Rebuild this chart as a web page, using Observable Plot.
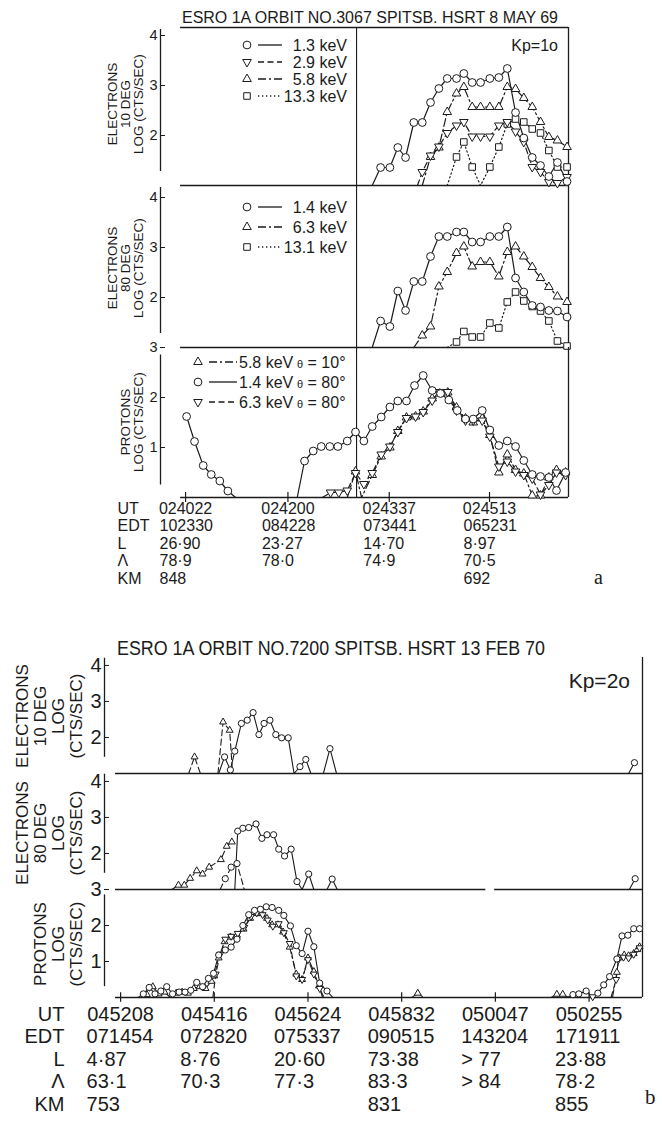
<!DOCTYPE html>
<html>
<head>
<meta charset="utf-8">
<script src="https://cdn.jsdelivr.net/npm/d3@7"></script>
<script src="https://cdn.jsdelivr.net/npm/@observablehq/plot@0.6"></script>
<style>
  html,body{margin:0;padding:0;background:#fff;}
  #root{position:relative;width:662px;height:1126px;overflow:hidden;background:#fff;}
  #root svg{position:absolute;left:0;}
</style>
</head>
<body>
<div id="root"></div>
<script>
// ================= DATA : figure a (UT seconds after 02:40:00) =================
const titleA = "ESRO 1A ORBIT NO.3067 SPITSB. HSRT 8 MAY 69";
const kpA = "Kp=1o";
const tickA = [22, 120, 217, 313];
const utA  = ["024022","024200","024337","024513"];
const edtA = ["102330","084228","073441","065231"];
const lA   = ["26·90","23·27","14·70","8·97"];
const latA = ["78·9","78·0","74·9","70·5"];
const kmA  = ["848","","","692"];
const rowNames = ["UT","EDT","L","Λ","KM"];

// panel a1 : electrons 10 deg, log cts/sec
const a1_c13 = [[[200.7,1],[208.7,1.36],[217.6,1.36],[225.2,1.76],[232.6,1.56],[240.5,2.26],[248.6,2.26],[256.5,2.66],[264.5,2.94],[272.5,3.14],[281.4,3.14],[288.4,3.24],[296.4,3.06],[304.4,3.06],[313.3,3.14],[321.9,3.16],[330,3.34],[337.9,2.46],[345.8,1.95],[353.9,1.56],[361.8,1.4],[369.8,1.18],[378,1.46],[387.2,1.08]]];
const a1_d29 = [[[244,1],[248.6,1.27],[256.5,1.6],[264.5,1.78],[272.5,2.05],[281.4,2.2],[288.4,2.27],[296.4,1.98],[304.4,1.98],[313.3,1.98],[321.9,2.2],[330,2.27],[337.9,2.08],[345.8,1.87],[353.9,1.37],[361.8,1.27],[369.8,1.07],[378,1.05],[387.2,1.17]]];
const a1_u58 = [[[248.6,1],[256.5,1.57],[264.5,1.76],[272.5,2.47],[281.4,2.84],[288.4,2.97],[296.4,2.57],[304.4,2.57],[313.3,2.57],[321.9,2.57],[330,2.97],[337.9,2.93],[345.8,2.75],[353.9,2.57],[361.8,2.27],[369.8,1.97],[378,1.9],[387.2,1.77]]];
const a1_s133 = [[[272.5,1],[281.4,1.57],[288.4,1.87],[296.4,1.37],[304.4,1],[313.3,1.37],[321.9,1.77],[330,2.23],[337.9,2.33],[345.8,2.27],[353.9,2.13],[361.8,2.05],[369.8,1.7],[378,1.37],[387.2,1.37]]];
const legA1 = ["1.3 keV","2.9 keV","5.8 keV","13.3 keV"];

// panel a2 : electrons 80 deg
const a2_c14 = [[[200.7,1],[208.7,1.53],[217.6,1.42],[225.2,2.13],[232.6,1.74],[240.5,2.32],[248.6,2.32],[256.5,2.82],[264.5,3.22],[272.5,3.22],[281.4,3.31],[288.4,3.31],[296.4,3.11],[304.4,3.11],[313.3,3.22],[321.9,3.22],[330,3.41],[337.9,2.39],[345.8,2.11],[353.9,1.84],[361.8,1.81],[369.8,1.74],[378,1.73],[387.2,1.61]]];
const a2_u63 = [[[240.5,1],[248.6,1.24],[256.5,1.42],[264.5,2.22],[272.5,2.51],[281.4,2.89],[288.4,3.02],[296.4,2.62],[304.4,2.71],[313.3,2.71],[321.9,2.42],[330,2.91],[337.9,3.02],[345.8,2.82],[353.9,2.61],[361.8,2.39],[369.8,2.21],[378,2.02],[387.2,1.91]]];
const a2_s131 = [[[272.5,1],[281.4,1.11],[288.4,1.32],[296.4,1.21],[304.4,1.21],[313.3,1.49],[321.9,1.39],[330,1.91],[337.9,2.11],[345.8,1.93],[353.9,1.82],[361.8,1.73],[369.8,1.53],[378,1.13],[387.2,1.03]]];
const legA2 = ["1.4 keV","6.3 keV","13.1 keV"];

// panel a3 : protons
const a3_c14 = [[[23,1.62],[30.6,1.12],[38.9,0.64],[46.6,0.46],[54.8,0.33],[62.5,0.13],[69.9,0],[128.9,0],[135.9,0.73],[144.2,0.93],[151.9,1.02],[160.1,1.02],[167.8,1.02],[176.8,1.13],[184.7,1.31],[192.7,1.13],[200.7,1.42],[209.3,1.61],[217.6,1.81],[225.2,1.93],[233.5,1.93],[241.2,2.24],[249.5,2.44],[258.1,2.14],[266.1,2.08],[274,1.95],[282.1,1.74],[290,1.57],[297.4,1.57],[306,1.74],[313.3,1.35],[321.9,1.04],[330,1.13],[337.9,1.02],[345.8,0.74],[353.9,0.46],[361.8,0.42],[369.8,0.4],[377.1,0.14],[385.8,0.5]]];
const a3_u58 = [[[176.8,0],[184.7,0.52],[190.5,0],[200.7,0.45],[209.3,0.82],[217.6,1.0],[225.2,1.33],[233.5,1.6],[242.2,1.62],[249.5,1.72],[258.1,1.98],[265.4,2.08],[273,2.1],[281.4,1.8],[290,1.58],[297.4,1.5],[306,1.58],[313.3,1.25],[321.9,0.5],[330,0.86],[337.9,0.55],[345.8,0.48],[353.9,0.04],[361.8,0.04],[369.8,0.4],[377.1,0.55],[385.8,0.5]]];
const a3_d63 = [[[152.9,0],[160.8,0.1],[168.7,0.1],[176.8,0.14],[184.7,0.49],[192.7,0.27],[200.7,0.49],[209.3,0.86],[217.6,1.02],[225.2,1.31],[233.5,1.59],[242.2,1.62],[249.5,1.71],[258.1,1.94],[265.4,2.11],[273,2.11],[281.4,1.74],[290,1.54],[297.4,1.54],[306,1.54],[313.3,1.22],[321.9,0.62],[330,0.72],[337.9,0.52],[345.8,0.45],[353.9,0.38],[361.8,0.06],[369.8,0.25],[377.1,0.5],[385.8,0.45]]];
const legA3 = ["5.8 keV","1.4 keV","6.3 keV"];
const legA3theta = ["10°","80°","80°"];

// ================= DATA : figure b (seconds after 04:52:08) =================
const titleB = "ESRO 1A ORBIT NO.7200 SPITSB. HSRT 13 FEB 70";
const kpB = "Kp=2o";
const tickB = [0,128,256,384,512,640];
const utB  = ["045208","045416","045624","045832","050047","050255"];
const edtB = ["071454","072820","075337","090515","143204","171911"];
const lB   = ["4·87","8·76","20·60","73·38","> 77","23·88"];
const latB = ["63·1","70·3","77·3","83·3","> 84","78·2"];
const kmB  = ["753","","","831","","855"];

const b1_c = [[[134,1],[142,1.46],[150,1.1],[156,1.62],[165,2.39],[173,2.48],[181,2.69],[189,2.08],[196,2.39],[204,2.48],[212,2.08],[220,1.99],[229,1.99],[237,1],[245,1.19],[253,1.39],[260,1]],[[277,1],[286,1.69],[295,1]],[[694,1],[702,1.3]]];
const b1_u = [[[93,1],[101,1.46],[109,1]],[[133,1],[140,2.43],[149,2.2],[153,1]]];

const b2_c = [[[156,1],[160,2.62],[167,2.7],[175,2.72],[185,2.82],[193,2.42],[200,2.52],[209,2.52],[216,2.12],[224,1.93],[233,2.12],[241,1.22],[248,1],[257,1.43],[264,1]],[[282,1],[289,1.29],[296,1]],[[695,1],[703,1.3]]];
const b2_cd = [[[136,1],[143,1.3],[151,1.62],[159,1.72],[169,1]]];
const b2_u = [[[70,1],[79,1.12],[87,1.12],[95,1.31],[104,1.52],[112,1.43],[121,1.62],[137,1.83],[145,2.2],[152,2.32]]];

const b3_c = [[[24,0],[31,0.1],[39,0.28],[47,0.1],[55,0.18],[63,0.3],[71,0.1],[80,0.15],[88,0.15],[96,0.2],[104,0.42],[112,0.3],[120,0.53],[127,0.67],[134,1.18],[143,1.32],[151,1.4],[159,1.62],[167,2.0],[175,2.3],[183,2.42],[191,2.45],[199,2.52],[207,2.5],[216,2.42],[223,2.28],[232,1.99],[240,1.44],[248,1.22],[256,1.84],[264,1.41],[272,0.4],[282,0.18],[290,0]],[[610,0],[618,0.08],[626,0.1],[636,0.18],[645,0],[652,0.12],[660,0.35],[668,0.58],[678,1.07],[685,1.71],[693,1.73],[701,1.91],[709,1.91]]];
const b3_u = [[[28,0],[36,0.08],[44,0.3],[52,0.1],[60,0.15],[68,0],[76,0.12],[84,0.15],[92,0.12],[100,0.25],[108,0.3],[116,0.25],[124,0.45],[128,0.6],[134,1.1],[142,1.55],[150,1.68],[159,1.73],[168,1.9],[177,2.2],[186,2.33],[193,2.33],[200,2.2],[207,2.02],[215,2.02],[222,1.82],[231,1.4],[240,0.65],[248,0.5],[256,1.1],[264,0.72],[271,0.32],[276,0]],[[398,0],[406,0.12],[414,0]],[[588,0],[596,0.09],[604,0.09],[612,0]],[[672,0],[678,0.7],[681,1.1],[688,1.18],[694,1.16],[701,1.22],[706,1.33],[709,1.41]]];
const b3_d = [[[126,0],[130,0.65],[136,1.2],[143,1.62],[151,1.7],[160,1.78],[169,1.95],[178,2.25],[186,2.35],[194,2.3],[201,2.15],[208,1.98],[216,2.05],[223,1.8],[231,1.5],[240,0.6],[248,0.5],[256,1.05],[264,0.65],[272,0.25],[278,0]],[[638,0],[645,0.02],[651,0]],[[670,0],[677,0.5],[680,1.05],[687,1.12],[694,1.1],[701,1.2],[709,1.38]]];

// ================= STYLE =================
const FONT = '"Liberation Sans",Arial,sans-serif';
const SERIF = '"Liberation Serif","DejaVu Serif",serif';
const INK = "#1b1b1b";
const DASH = "6,3.5", DASHDOT = "8,3,2,3", DOT = "1.3,2.7";
const S3 = Math.sqrt(3);
const triDown = {draw(ctx, size){ const y = -Math.sqrt(size/(S3*3)); ctx.moveTo(0,-2*y); ctx.lineTo(-S3*y, y); ctx.lineTo(S3*y, y); ctx.closePath(); }};
const SYM = {circle: "circle", up: "triangle", down: triDown, square: "square"};
const RAD = {circle: 3.9, up: 3.2, down: 3.2, square: 3.7};
const D3SYM = {circle: d3.symbolCircle, up: d3.symbolTriangle, down: triDown, square: d3.symbolSquare};

function rows(segs){ const out=[]; segs.forEach((seg,k)=>seg.forEach(([t,v])=>out.push({t,v,seg:k}))); return out; }

const root = document.getElementById("root");

function panel(o){
  const {xd, yd} = o;
  const marks = [];
  marks.push(Plot.ruleY(o.baseSpans, {y: yd[0], x1: d=>d[0], x2: d=>d[1], stroke: INK, strokeWidth: o.fw}));
  if (o.topBorder) marks.push(Plot.ruleY([o.baseSpans[0][0]], {y: yd[1], x1: d=>d, x2: xd[1], stroke: INK, strokeWidth: o.fw}));
  marks.push(Plot.ruleX([xd[1]], {stroke: INK, strokeWidth: o.fw}));
  if (o.divider != null) marks.push(Plot.ruleX([o.divider], {stroke: INK, strokeWidth: 1.1}));
  marks.push(Plot.ruleX([xd[0]], {y1: o.axisSpan[0], y2: o.axisSpan[1], stroke: INK, strokeWidth: o.fw}));
  marks.push(Plot.axisY(o.ticks, {anchor: "left", tickSize: -5, tickPadding: 8, label: null, fontSize: o.tickFont, fontFamily: FONT, color: INK, tickFormat: d=>String(d)}));
  for (const s of o.series){
    const data = rows(s.segs);
    marks.push(Plot.line(data, {x: "t", y: "v", z: "seg", stroke: INK, strokeWidth: o.lw, strokeDasharray: s.dash || null}));
  }
  for (const s of o.series){
    const data = rows(s.segs).filter(d => d.v > yd[0] + 1e-9);
    marks.push(Plot.dot(data, {x: "t", y: "v", symbol: SYM[s.sym], r: RAD[s.sym]*o.ms, fill: "white", stroke: INK, strokeWidth: 1}));
  }
  if (o.bottom){
    const b = o.bottom;
    marks.push(Plot.ruleX(b.ticks, {y1: yd[0]-b.tickLen, y2: yd[0]+b.tickLen, stroke: INK, strokeWidth: 1.2}));
    b.rows.forEach((arr,i)=>{
      marks.push(Plot.text(b.ticks, {x: d=>d, text: (d,j)=>arr[j], frameAnchor: "bottom", dy: b.dy[i], dx: i===0 ? 0 : -b.colShift, textAnchor: i===0 ? "middle" : "start", lineAnchor: "middle", fontSize: b.font, fontFamily: FONT, fill: INK}));
      marks.push(Plot.text([rowNames[i]], {frameAnchor: "bottom-left", dx: b.nameDx, dy: b.dy[i], textAnchor: b.nameAnchor, lineAnchor: "middle", fontSize: b.font, fontFamily: FONT, fill: INK}));
    });
  }
  const mt = 8, mb = o.bottom ? 135 : 8;
  const svg = Plot.plot({
    width: 662, height: mt + o.h + mb,
    marginLeft: o.ml, marginRight: o.mr, marginTop: mt, marginBottom: mb,
    x: {domain: xd, axis: null},
    y: {domain: yd, label: null},
    marks,
    style: {background: "none", overflow: "visible", color: INK, fontFamily: FONT}
  });
  svg.style.top = (o.top - mt) + "px";
  root.appendChild(svg);
}

// ---------------- figure a ----------------
const xdA = [-2, 388.6];
const commonA = {xd: xdA, ml: 160, mr: 94, fw: 1.3, lw: 1.2, ms: 1, tickFont: 14.5, divider: 185.7, baseSpans: [[17.2, 388.6]]};
panel({...commonA, top: 27, h: 158, yd: [1, 4.16], ticks: [2,3,4], axisSpan: [4.12, 1.28], topBorder: true,
  series: [{segs: a1_s133, sym: "square", dash: DOT},{segs: a1_u58, sym: "up", dash: DASHDOT},{segs: a1_d29, sym: "down", dash: DASH},{segs: a1_c13, sym: "circle"}]});
panel({...commonA, top: 185, h: 162, yd: [1, 4.24], ticks: [2,3,4], axisSpan: [4.2, 1.28],
  series: [{segs: a2_s131, sym: "square", dash: DOT},{segs: a2_u63, sym: "up", dash: DASHDOT},{segs: a2_c14, sym: "circle"}]});
panel({...commonA, top: 347, h: 150, yd: [0, 3], ticks: [1,2,3], axisSpan: [2.85, 0.25],
  series: [{segs: a3_u58, sym: "up", dash: DASHDOT},{segs: a3_d63, sym: "down", dash: DASH},{segs: a3_c14, sym: "circle"}],
  bottom: {ticks: tickA, rows: [utA, edtA, lA, latA, kmA], dy: [11, 28.5, 46, 63.5, 81], colShift: 26, nameDx: -43, nameAnchor: "start", font: 16, tickLen: 0.1}});

// ---------------- figure b ----------------
const xdB = [-22, 713];
const commonB = {xd: xdB, ml: 104, mr: 20, fw: 1.3, lw: 1.1, ms: 0.8, tickFont: 20};
panel({...commonB, top: 657, h: 116, yd: [1, 4.22], ticks: [2,3,4], axisSpan: [4.2, 1.45], baseSpans: [[-7, 713]],
  series: [{segs: b1_u, sym: "up", dash: DASH},{segs: b1_c, sym: "circle"}]});
panel({...commonB, top: 773, h: 116, yd: [1, 4.22], ticks: [2,3,4], axisSpan: [4.2, 1.45], baseSpans: [[-7, 499],[511, 713]],
  series: [{segs: b2_u, sym: "up", dash: DASHDOT},{segs: b2_cd, sym: "circle", dash: DASH},{segs: b2_c, sym: "circle"}]});
panel({...commonB, top: 889, h: 108, yd: [0, 3], ticks: [1,2,3], axisSpan: [2.85, 0.3], baseSpans: [[-7, 713]],
  series: [{segs: b3_u, sym: "up", dash: DASHDOT},{segs: b3_d, sym: "down", dash: DASH},{segs: b3_c, sym: "circle"}],
  bottom: {ticks: tickB, rows: [utB, edtB, lB, latB, kmB], dy: [17, 39.5, 62, 84.5, 107], colShift: 34, nameDx: -40, nameAnchor: "end", font: 20, tickLen: 0.13}});

// ---------------- overlay text & legends ----------------
const ov = d3.create("svg").attr("width", 662).attr("height", 1126).style("top", "0px").style("pointer-events", "none");
function T(x, y, s, o = {}){
  const t = ov.append("text").attr("x", x).attr("y", y).text(s)
    .attr("font-family", o.family || FONT).attr("font-size", o.size || 15).attr("fill", INK)
    .attr("text-anchor", o.anchor || "start");
  if (o.rotate) t.attr("transform", `rotate(${o.rotate},${x},${y})`);
  if (o.len) t.attr("textLength", o.len).attr("lengthAdjust", "spacingAndGlyphs");
  return t;
}
function sym(x, y, kind, scale){
  const r = RAD[kind]*scale;
  ov.append("path").attr("d", d3.symbol().type(D3SYM[kind]).size(Math.PI*r*r)()).attr("transform", `translate(${x},${y})`)
    .attr("fill", "white").attr("stroke", INK).attr("stroke-width", 1);
}
function seg(x1, x2, y, dash){
  ov.append("line").attr("x1", x1).attr("x2", x2).attr("y1", y).attr("y2", y).attr("stroke", INK).attr("stroke-width", 1.3).attr("stroke-dasharray", dash || null);
}
function vlabel(cx, cy, lines, size, gap){
  lines.forEach((s,i)=> T(cx + i*gap + size*0.36, cy, s, {size, anchor: "middle", rotate: -90}));
}

// figure a
T(370, 23, titleA, {size: 16, anchor: "middle", len: 376});
T(558, 51, kpA, {size: 16, anchor: "end"});
vlabel(112, 104, ["ELECTRONS","10 DEG","LOG (CTS/SEC)"], 13.5, 13);
vlabel(112, 268, ["ELECTRONS","80 DEG","LOG (CTS/SEC)"], 13.5, 13);
vlabel(125, 422, ["PROTONS","LOG (CTS/SEC)"], 13.5, 13);
const legA1sym = ["circle","down","up","square"], legA1dash = [null, DASH, DASHDOT, DOT];
legA1.forEach((s,i)=>{ const y = 45 + i*17; sym(247, y, legA1sym[i], 1); seg(258, 282, y, legA1dash[i]); T(347, y+5.5, s, {size: 16, anchor: "end"}); });
const legA2sym = ["circle","up","square"], legA2dash = [null, DASHDOT, DOT];
legA2.forEach((s,i)=>{ const y = 207 + i*20; sym(247, y, legA2sym[i], 1); seg(258, 282, y, legA2dash[i]); T(347, y+5.5, s, {size: 16, anchor: "end"}); });
const legA3sym = ["up","circle","down"], legA3dash = [DASHDOT, null, DASH];
legA3.forEach((s,i)=>{ const y = 362 + i*20; sym(198, y, legA3sym[i], 1); seg(209, 237, y, legA3dash[i]); T(239, y+6, s, {size: 16});
  const t = T(297, y+6, "", {size: 16}); t.append("tspan").attr("font-size", 11).text("θ"); t.append("tspan").text(" = " + legA3theta[i]); });
T(594, 584, "a", {size: 20, family: SERIF});

// figure b
T(331, 655, titleB, {size: 20, anchor: "middle", len: 428});
T(630, 688, kpB, {size: 21, anchor: "end"});
vlabel(22, 716, ["ELECTRONS","10 DEG","LOG","(CTS/SEC)"], 17, 18);
vlabel(22, 833, ["ELECTRONS","80 DEG","LOG","(CTS/SEC)"], 17, 18);
vlabel(40, 944, ["PROTONS","LOG","(CTS/SEC)"], 17, 18);
T(645, 1104, "b", {size: 21, family: SERIF});

root.appendChild(ov.node());
</script>
</body>
</html>
